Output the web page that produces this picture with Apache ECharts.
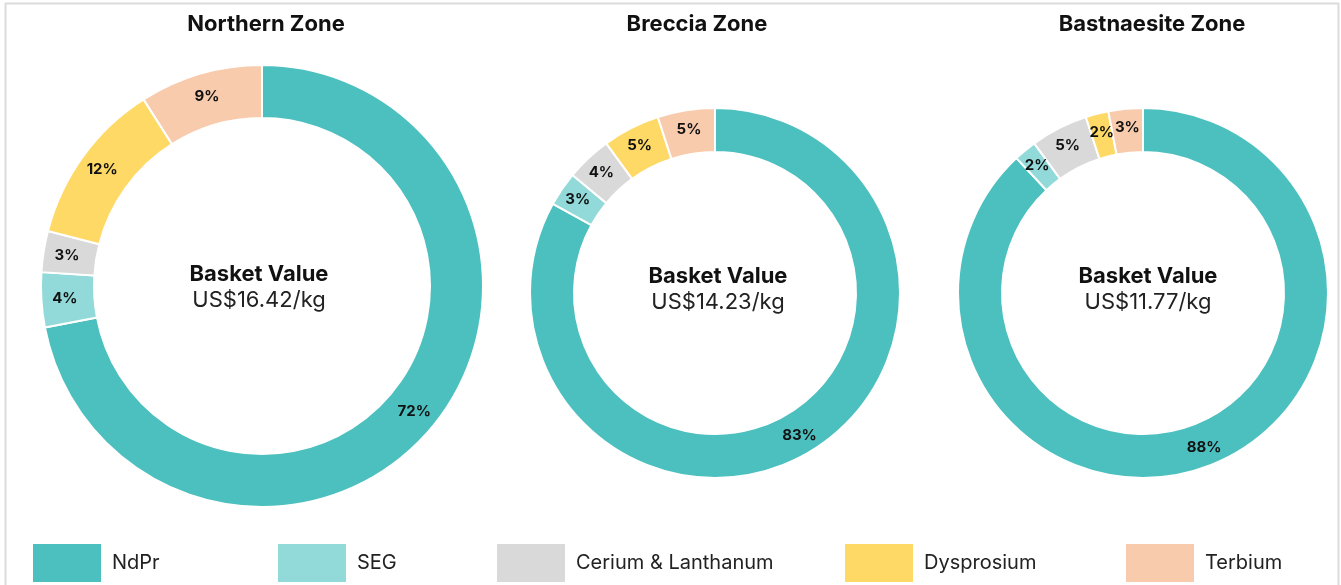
<!DOCTYPE html>
<html>
<head>
<meta charset="utf-8">
<script src="https://cdn.jsdelivr.net/npm/echarts@6/dist/echarts.min.js"></script>
<style>
  html, body { margin: 0; padding: 0; background: #fff; }
  #chart { width: 1341px; height: 585px; }
</style>
</head>
<body>
<div id="chart"></div>
<script>
// data
const elements = ['NdPr', 'SEG', 'Cerium & Lanthanum', 'Dysprosium', 'Terbium']
const colors = ['#4cbfbf', '#92d9d9', '#d9d9d9', '#ffd966', '#f8cbad']
const zones = ['Northern Zone', 'Breccia Zone', 'Bastnaesite Zone']
const basketValues = ['US$16.42/kg', 'US$14.23/kg', 'US$11.77/kg']
const northernShare = [72, 4, 3, 12, 9]
const brecciaShare = [83, 3, 4, 5, 5]
const bastnaesiteShare = [88, 2, 5, 2, 3]

const shares = [northernShare, brecciaShare, bastnaesiteShare]

// layout bits
const centers = [[262, 286], [715, 293], [1143, 293]]
const radii = [[168, 221], [141, 185], [141, 185]]
const titleX = [266, 697, 1152]
const centerTextX = [259, 718, 1148]
const centerTextY = [263, 265, 265]
const legendX = [31, 276, 495, 843, 1124]
const font = 'Inter, "Open Sans", sans-serif'

let chart = echarts.init(document.getElementById('chart'))

let titles = []
zones.forEach((z, i) => {
    titles.push({
        text: z, left: titleX[i], top: 13, textAlign: 'center', padding: 0,
        textStyle: { fontFamily: font, fontSize: 22, fontWeight: 'bold', color: '#111' }
    })
    titles.push({
        text: 'Basket Value', subtext: basketValues[i],
        left: centerTextX[i], top: centerTextY[i], textAlign: 'center', itemGap: 4, padding: 0,
        textStyle: { fontFamily: font, fontSize: 22, fontWeight: 'bold', color: '#111' },
        subtextStyle: { fontFamily: font, fontSize: 22, color: '#222' }
    })
})

let series = shares.map((vals, i) => ({
    type: 'pie',
    name: zones[i],
    center: centers[i],
    radius: radii[i],
    startAngle: 90,
    clockwise: true,
    avoidLabelOverlap: false,
    silent: true,
    itemStyle: { borderColor: '#fff', borderWidth: 2 },
    label: {
        show: true, position: 'inside', formatter: '{c}%',
        fontFamily: font, fontSize: 15, fontWeight: 'bold', color: '#111'
    },
    labelLine: { show: false },
    data: vals.map((v, k) => ({ name: elements[k], value: v, itemStyle: { color: colors[k] } }))
}))

let legends = elements.map((name, k) => ({
    data: [name],
    left: legendX[k],
    top: 542,
    padding: 0,
    icon: 'rect',
    itemWidth: 70,
    itemHeight: 40,
    selectedMode: false,
    textStyle: { fontFamily: font, fontSize: 20, color: '#222', padding: [0, 0, 0, 5] }
}))

let options = {
    backgroundColor: '#fff',
    animation: false,
    title: titles,
    legend: legends,
    graphic: [{
        type: 'rect',
        shape: { x: 5.5, y: 3.5, width: 1333, height: 600 },
        style: { fill: 'none', stroke: '#dcdcdc', lineWidth: 2 },
        z: -1
    }],
    series: series
}
chart.setOption(options)
</script>
</body>
</html>
